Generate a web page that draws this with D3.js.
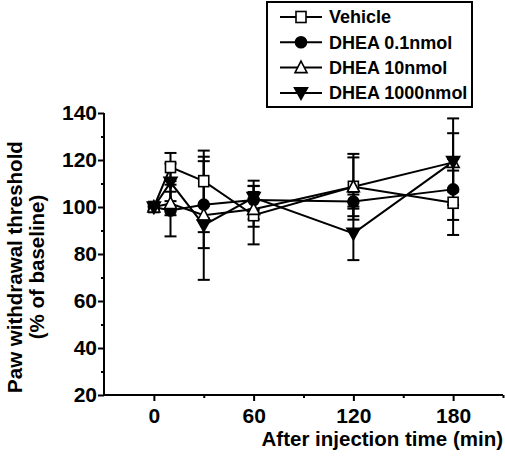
<!DOCTYPE html>
<html>
<head>
<meta charset="utf-8">
<script src="https://cdn.jsdelivr.net/npm/d3@7"></script>
<style>
  html, body { margin: 0; padding: 0; background: #fff; }
  svg { display: block; }
  text { font-family: "Liberation Sans", Arial, sans-serif; font-weight: bold; fill: #000; }
</style>
</head>
<body>
<svg id="chart" width="505" height="459"></svg>
<script>
const times = [0, 10, 30, 60, 120, 180];
const seriesNames = ["Vehicle", "DHEA 0.1nmol", "DHEA 10nmol", "DHEA 1000nmol"];
const vehicle = [100, 117, 111, 96.5, 108.6, 101.8];
const vehicleErr = [1.5, 6, 10.4, 12.4, 14, 13.7];
const dhea01 = [100, 98.5, 101, 103, 102.3, 107.5];
const dhea01Err = [1.5, 11, 18.5, 8.2, 3, 13];
const dhea10 = [100, 101.5, 96.5, 99, 108.6, 119];
const dhea10Err = [1.5, 5, 27.5, 7.4, 12.5, 12.4];
const dhea1000 = [100, 110.5, 92.3, 104, 88.8, 119.3];
const dhea1000Err = [1.5, 8, 3, 5, 11.4, 18.4];
const yTicks = [20, 40, 60, 80, 100, 120, 140];
const yMinor = [30, 50, 70, 90, 110, 130];
const xTicks = [0, 60, 120, 180];
const xMinor = [30, 90, 150, 210];
const symbols = ["square", "circle", "triangleUp", "triangleDown"];
const filled = [false, true, false, true];

const values = [vehicle, dhea01, dhea10, dhea1000];
const errs = [vehicleErr, dhea01Err, dhea10Err, dhea1000Err];

const svg = d3.select("#chart");
const x = d3.scaleLinear().domain([-30, 210]).range([104, 503]);
const y = d3.scaleLinear().domain([20, 140]).range([395, 113]);

function drawMarker(g, type, cx, cy, fill) {
  const st = { stroke: "#000", "stroke-width": 1.6, fill: fill ? "#000" : "#fff" };
  let el;
  if (type === "square") {
    el = g.append("rect").attr("x", cx - 5).attr("y", cy - 5.5).attr("width", 10).attr("height", 11);
  } else if (type === "circle") {
    el = g.append("circle").attr("cx", cx).attr("cy", cy).attr("r", 5.5);
  } else if (type === "triangleUp") {
    el = g.append("path").attr("d", `M${cx},${cy - 6.5}L${cx + 6},${cy + 5}L${cx - 6},${cy + 5}Z`);
  } else {
    el = g.append("path").attr("d", `M${cx - 6.5},${cy - 5}L${cx + 6.5},${cy - 5}L${cx},${cy + 6.5}Z`);
  }
  Object.entries(st).forEach(([k, v]) => el.attr(k, v));
}

// Axes
const yAxis = d3.axisLeft(y).tickValues(yTicks).tickSize(6).tickPadding(1).tickFormat(d3.format("d"));
const gy = svg.append("g").attr("transform", "translate(104,0)").call(yAxis);
gy.select(".domain").attr("stroke-width", 2).attr("d", "M0,395V113");
gy.selectAll(".tick line").attr("stroke-width", 2);
gy.selectAll(".tick text").attr("font-size", 21);
const yAxisMinor = d3.axisLeft(y).tickValues(yMinor).tickSize(3).tickFormat("");
const gym = svg.append("g").attr("transform", "translate(104,0)").call(yAxisMinor);
gym.select(".domain").remove();
gym.selectAll(".tick line").attr("stroke-width", 2);

const xAxis = d3.axisBottom(x).tickValues(xTicks).tickSize(6).tickPadding(7).tickFormat(d3.format("d"));
const gx = svg.append("g").attr("transform", "translate(0,395)").call(xAxis);
gx.select(".domain").attr("stroke-width", 2).attr("d", "M103,0H503");
gx.selectAll(".tick line").attr("stroke-width", 2);
gx.selectAll(".tick text").attr("font-size", 21);
const xAxisMinor = d3.axisBottom(x).tickValues(xMinor).tickSize(3).tickFormat("");
const gxm = svg.append("g").attr("transform", "translate(0,395)").call(xAxisMinor);
gxm.select(".domain").remove();
gxm.selectAll(".tick line").attr("stroke-width", 2);

// Axis titles
svg.append("text").attr("x", 503).attr("y", 446).attr("text-anchor", "end")
  .attr("font-size", 20.5).text("After injection time (min)");
svg.append("text").attr("transform", "translate(22,267) rotate(-90)").attr("text-anchor", "middle")
  .attr("font-size", 20.5).text("Paw withdrawal threshold");
svg.append("text").attr("transform", "translate(44,267) rotate(-90)").attr("text-anchor", "middle")
  .attr("font-size", 20.5).text("(% of baseline)");

// Data
const line = d3.line().x((d, i) => x(times[i])).y(d => y(d));
const plot = svg.append("g");
values.forEach((vals, s) => {
  const g = plot.append("g");
  vals.forEach((v, i) => {
    const cx = x(times[i]);
    const top = y(v + errs[s][i]), bot = y(v - errs[s][i]);
    g.append("line").attr("x1", cx).attr("x2", cx).attr("y1", top).attr("y2", bot)
      .attr("stroke", "#000").attr("stroke-width", 2);
    [top, bot].forEach(yy => g.append("line").attr("x1", cx - 6).attr("x2", cx + 6)
      .attr("y1", yy).attr("y2", yy).attr("stroke", "#000").attr("stroke-width", 2));
  });
  g.append("path").datum(vals).attr("d", line).attr("fill", "none")
    .attr("stroke", "#000").attr("stroke-width", 2);
});
values.forEach((vals, s) => {
  const g = plot.append("g");
  vals.forEach((v, i) => drawMarker(g, symbols[s], x(times[i]), y(v), filled[s]));
});

// Legend
const lg = svg.append("g");
lg.append("rect").attr("x", 267).attr("y", 2).attr("width", 205).attr("height", 105)
  .attr("fill", "#fff").attr("stroke", "#000").attr("stroke-width", 2);
seriesNames.forEach((name, i) => {
  const cy = 17 + i * 25.3;
  lg.append("line").attr("x1", 280).attr("x2", 322).attr("y1", cy).attr("y2", cy)
    .attr("stroke", "#000").attr("stroke-width", 2);
  drawMarker(lg, symbols[i], 301, cy, filled[i]);
  lg.append("text").attr("x", 329).attr("y", cy).attr("dy", "0.35em")
    .attr("font-size", 18).text(name);
});
</script>
</body>
</html>
